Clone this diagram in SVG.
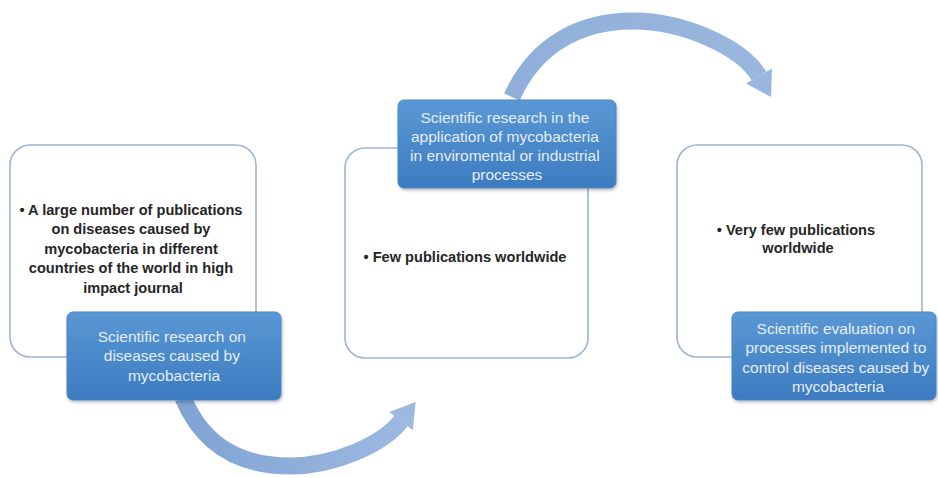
<svg xmlns="http://www.w3.org/2000/svg" width="938" height="478" viewBox="0 0 938 478">
<defs>
<linearGradient id="blueFill" x1="0" y1="0" x2="0" y2="1">
<stop offset="0" stop-color="#5A98D4"/>
<stop offset="1" stop-color="#3C7BC0"/>
</linearGradient>
<linearGradient id="arrowBottom" gradientUnits="userSpaceOnUse" x1="180" y1="400" x2="415" y2="410">
<stop offset="0" stop-color="#7FA3D3"/>
<stop offset="0.5" stop-color="#8EAEDA"/>
<stop offset="1" stop-color="#9DB9E0"/>
</linearGradient>
<linearGradient id="arrowTop" gradientUnits="userSpaceOnUse" x1="512" y1="97" x2="772" y2="97">
<stop offset="0" stop-color="#8FAFDA"/>
<stop offset="1" stop-color="#9AB6DE"/>
</linearGradient>
<filter id="shadow" x="-10%" y="-10%" width="120%" height="130%">
<feDropShadow dx="1" dy="2" stdDeviation="1.5" flood-color="#000" flood-opacity="0.25"/>
</filter>
<style>
.white { fill: #FFFFFF; stroke: #9DB4D4; stroke-width: 1.6; }
.blue { fill: url(#blueFill); stroke: #4A85C4; stroke-width: 1; filter: url(#shadow); }
.bt { font-family: "Liberation Sans", Arial, sans-serif; font-size: 14.6px; font-weight: bold; fill: #262626; text-anchor: middle; }
.wt { font-family: "Liberation Sans", Arial, sans-serif; font-size: 15.5px; fill: #E4EDF8; text-anchor: middle; }
</style>
</defs>
<rect width="938" height="478" fill="#FFFFFF"/>

<g id="connectors">
<g id="arrow-1">
<path d="M183,398 C205,450 245,466 290,466 C335,466 383,444 401,421" fill="none" stroke="url(#arrowBottom)" stroke-width="17"/>
<polygon points="412.9,430.2 415.6,402 389.2,411.9" fill="#9DB9E0"/>
</g>
<g id="arrow-2">
<path d="M512,97 C535,45 580,21 633,21 C685,21 742,48 759,76" fill="none" stroke="url(#arrowTop)" stroke-width="17"/>
<polygon points="772,68.5 771,97 746,83.5" fill="#9AB6DE"/>
</g>
</g>

<g id="node-1">
<rect class="white" x="10" y="145" width="246" height="212" rx="20"/>
<text class="bt">
<tspan x="133" y="215">• A large number of publications</tspan>
<tspan x="133" y="234">on diseases caused by</tspan>
<tspan x="133" y="254">mycobacteria in different</tspan>
<tspan x="133" y="273">countries of the world in high</tspan>
<tspan x="133" y="293">impact journal</tspan>
</text>
</g>
<g id="node-1-label">
<rect class="blue" x="67" y="312" width="214" height="88" rx="6"/>
<text class="wt">
<tspan x="174" y="342">Scientific research on</tspan>
<tspan x="174" y="361">diseases caused by</tspan>
<tspan x="174" y="381">mycobacteria</tspan>
</text>
</g>

<g id="node-2">
<rect class="white" x="345" y="148" width="243" height="210" rx="20"/>
<text class="bt"><tspan x="465" y="262">• Few publications worldwide</tspan></text>
</g>
<g id="node-2-label">
<rect class="blue" x="398" y="100" width="218" height="88" rx="6"/>
<text class="wt">
<tspan x="507" y="123">Scientific research in the</tspan>
<tspan x="507" y="142">application of mycobacteria</tspan>
<tspan x="507" y="161">in enviromental or industrial</tspan>
<tspan x="507" y="180">processes</tspan>
</text>
</g>

<g id="node-3">
<rect class="white" x="677" y="145" width="245" height="212" rx="20"/>
<text class="bt">
<tspan x="798" y="235">• Very few publications</tspan>
<tspan x="798" y="253">worldwide</tspan>
</text>
</g>
<g id="node-3-label">
<rect class="blue" x="732" y="312" width="204" height="88" rx="6"/>
<text class="wt">
<tspan x="838" y="334">Scientific evaluation on</tspan>
<tspan x="838" y="353">processes implemented to</tspan>
<tspan x="838" y="373">control diseases caused by</tspan>
<tspan x="838" y="392">mycobacteria</tspan>
</text>
</g>
</svg>
